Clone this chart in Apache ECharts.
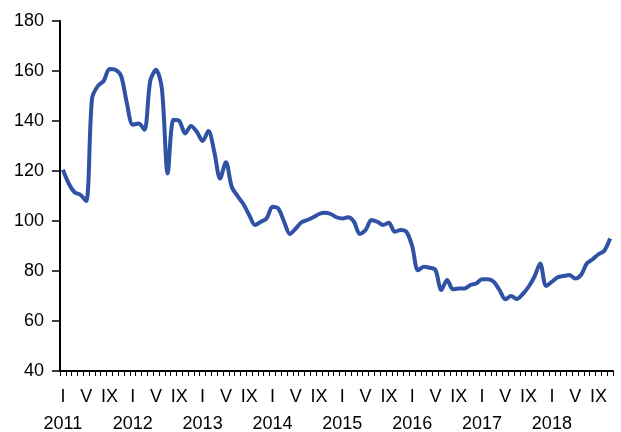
<!DOCTYPE html>
<html>
<head>
<meta charset="utf-8">
<script src="https://cdn.jsdelivr.net/npm/echarts@6/dist/echarts.min.js"></script>
<style>
html,body{margin:0;padding:0;background:#fff;}
#chart{width:621px;height:432px;}
</style>
</head>
<body>
<div id="chart"></div>
<script>
// Years covered and month tick labels (Roman numerals shown every 4 months)
var years = ['2011','2012','2013','2014','2015','2016','2017','2018'];
var monthLabels = ['I','','','','V','','','','IX','','',''];
var monthCount = 95; // Jan 2011 .. Nov 2018

// Series values (monthly index)
var values = [
  120.5,115,111.5,110.5,108,149,154,156,160.8,160.5,158,147,
  138.5,139,136.5,156,160.5,153,119,140.5,140,135,138,135.7,
  132,136,127.7,117,123.5,113.7,110,106.8,102.4,98.4,99.7,101,
  105.7,105,99.7,94.8,97,99.5,100.4,101.5,102.8,103.3,102.8,101.5,
  101,101.5,99.7,94.8,96.4,100.4,99.7,98.4,99.3,95.7,96.4,95.7,
  90,80.3,81.7,81.3,80.4,72.4,76.4,72.7,73,73,74.4,75,
  76.7,76.7,75.7,72.4,68.7,70,68.8,70.8,73.7,77.7,83,74,
  75.7,77.5,78,78.4,77,78.4,83,84.7,86.7,88.1,93
];

// Y axis ticks
var yMin = 40, yMax = 180, yStep = 20;

var categories = [];
for (var i = 0; i < monthCount; i++) {
  var m = i % 12, y = Math.floor(i / 12);
  var lab = monthLabels[m];
  if (m === 0) lab = lab + '\n' + years[y];
  categories.push(lab);
}

var chart = echarts.init(document.getElementById('chart'), null, {renderer: 'canvas'});
var font = 'Liberation Sans, Arial, sans-serif';
chart.setOption({
  animation: false,
  backgroundColor: '#ffffff',
  grid: {left: 60, right: 8, top: 21, bottom: 61, containLabel: false, outerBoundsMode: 'none'},
  xAxis: {
    type: 'category',
    data: categories,
    boundaryGap: true,
    axisLine: {lineStyle: {color: '#000', width: 2}},
    axisTick: {show: true, interval: 0, length: 5, lineStyle: {color: '#000', width: 1}},
    axisLabel: {
      interval: 0,
      color: '#000',
      fontSize: 18,
      fontFamily: font,
      lineHeight: 27,
      margin: 13
    },
    splitLine: {show: false}
  },
  yAxis: {
    type: 'value',
    min: yMin, max: yMax, interval: yStep,
    axisLine: {show: true, lineStyle: {color: '#000', width: 2}},
    axisTick: {show: true, length: 8, lineStyle: {color: '#000', width: 1.5}},
    axisLabel: {color: '#000', fontSize: 18, fontFamily: font, margin: 16},
    splitLine: {show: false}
  },
  series: [{
    type: 'line',
    data: values,
    smooth: 0.3,
    showSymbol: false,
    symbol: 'none',
    lineStyle: {color: '#2F52A4', width: 4}
  }]
});
</script>
</body>
</html>
